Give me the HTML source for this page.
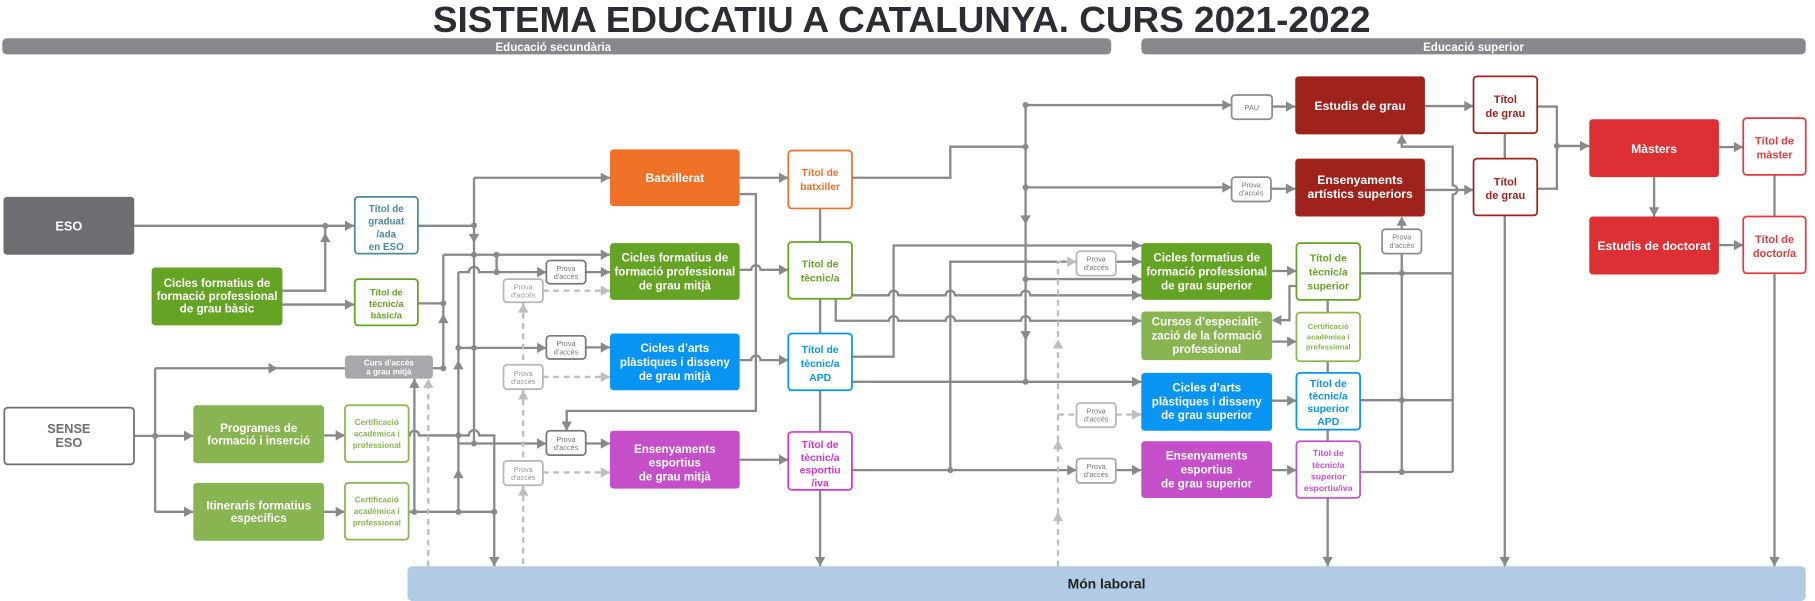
<!DOCTYPE html>
<html><head><meta charset="utf-8"><style>
html,body{margin:0;padding:0;background:#fff;}
svg{display:block;}
text{font-family:"Liberation Sans",Arial,sans-serif;}
</style></head><body>
<svg width="1815" height="601" viewBox="0 0 1568 519" preserveAspectRatio="none" xmlns="http://www.w3.org/2000/svg">
<defs>
<polygon id="ar" points="0,0 -8,-4.5 -8,4.5" fill="#88898d"/>
<polygon id="al" points="0,0 -8,-4.5 -8,4.5" fill="#bdbec1"/>
<circle id="dt" r="2.6" fill="#88898d"/>
</defs>

<!-- Title -->
<text x="779" y="27.5" font-size="31" font-weight="bold" fill="#2b2d33" text-anchor="middle" textLength="810" lengthAdjust="spacingAndGlyphs">SISTEMA EDUCATIU A CATALUNYA. CURS 2021-2022</text>
<rect x="2" y="33" width="958" height="14" rx="4" fill="#87888c"/>
<text x="478" y="44" font-size="10" font-weight="bold" fill="#fff" text-anchor="middle">Educació secundària</text>
<rect x="986" y="33" width="574" height="14" rx="4" fill="#87888c"/>
<text x="1273" y="44" font-size="10" font-weight="bold" fill="#fff" text-anchor="middle">Educació superior</text>

<!-- Món laboral -->
<rect x="352" y="489" width="1208" height="30" rx="4" fill="#b1cbe5"/>
<text x="956" y="508" font-size="12" font-weight="bold" fill="#222" text-anchor="middle">Món laboral</text>

<!-- LINES -->
<g fill="none" stroke="#88898d" stroke-width="2">
<path d="M116,195H306"/>
<path d="M244,251H281V195"/>
<path d="M244,263H306"/>
<path d="M361,195H409.5"/>
<path d="M409.5,153.5V383"/>
<path d="M409.5,153.5H527"/>
<path d="M383,220H527"/>
<path d="M429,220V235"/>
<path d="M396,235H405a4.5,4.5 0 0 1 9,0H472"/>
<path d="M506,235H527"/>
<path d="M361,262H383"/>
<path d="M383,220V318"/>
<path d="M134,318V442"/>
<path d="M134,318H298"/>
<path d="M116,376.4H167"/>
<path d="M134,442H167"/>
<path d="M280,376H298"/>
<path d="M280,442H298"/>
<path d="M374,318H383"/>
<path d="M358,442V327"/>
<path d="M396,235V442"/>
<path d="M396,383H472"/>
<path d="M396,300.4H472"/>
<path d="M506,300H527"/>
<path d="M506,383H527"/>
<path d="M353,376H354a4,4 0 0 1 8,0H405a4.5,4.5 0 0 1 9,0H427V489"/>
<path d="M353,442H427"/>
<path d="M639,167.6H653V354.8H489.6V372"/>
<path d="M639,153.5H681"/>
<path d="M639,233H649a4,4 0 0 1 8,0H681"/>
<path d="M639,311H649a4,4 0 0 1 8,0H681"/>
<path d="M639,397H681"/>
<path d="M708.5,180V209M708.5,258V288M708.5,337V373M708.5,423V489"/>
<path d="M736,153.5H821V126.7H886"/>
<path d="M886,90.7V329"/>
<path d="M886,90.7H1064"/>
<path d="M1099,92H1119"/>
<path d="M886,161.8H1064"/>
<path d="M1098,163H1119"/>
<path d="M736,255H768a4,4 0 0 1 8,0H817a4,4 0 0 1 8,0H882a4,4 0 0 1 8,0H986"/>
<path d="M722,258V277H768a4,4 0 0 1 8,0H817a4,4 0 0 1 8,0H882a4,4 0 0 1 8,0H986"/>
<path d="M736,308H772V212H986"/>
<path d="M736,329.7H986"/>
<path d="M736,406H930"/>
<path d="M964,406H986"/>
<path d="M821,406V226H930"/>
<path d="M964,226H986"/>
<path d="M886,241H986"/>
<path d="M1099,234H1120"/>
<path d="M1099,295H1120"/>
<path d="M1099,346H1120"/>
<path d="M1099,406H1120"/>
<path d="M1120,247H1114V276.5H1100"/>
<path d="M1147,259V270M1147,312V322M1147,371V381M1147,430V489"/>
<path d="M1175,236H1255M1175,345.6H1255M1175,407.6H1255"/>
<path d="M1211,407.6V219M1211,198V188"/>
<path d="M1255,407.6V168a4,4 0 0 0 0,-8V126.7H1211V117"/>
<path d="M1231,91.6H1273M1231,164H1273"/>
<path d="M1300,115V137M1300,186V489"/>
<path d="M1328,92H1345V163H1328M1345,126H1373"/>
<path d="M1485,127H1506M1429,153V187M1485,211.7H1506"/>
<path d="M1533,151V187M1533,236V489"/>
</g>
<!-- dashed -->
<g fill="none" stroke="#bdbec1" stroke-width="2" stroke-dasharray="5,4">
<path d="M469,251H527"/>
<path d="M469,325.5H527"/>
<path d="M469,408H527"/>
<path d="M452,261V315M452,336V398M452,419V489"/>
<path d="M370,489V327"/>
<path d="M914,489V226H930"/>
<path d="M914,358H930"/>
<path d="M964,358H986"/>
</g>

<!-- arrows -->
<use href="#ar" transform="translate(306,195)"/>
<use href="#ar" transform="translate(281,201) rotate(-90)"/>
<use href="#ar" transform="translate(306,263)"/>
<use href="#ar" transform="translate(409.5,210) rotate(90)"/>
<use href="#ar" transform="translate(527,153.5)"/>
<use href="#ar" transform="translate(527,220)"/>
<use href="#ar" transform="translate(472,235)"/>
<use href="#ar" transform="translate(527,235)"/>
<use href="#ar" transform="translate(383,271) rotate(-90)"/>
<use href="#ar" transform="translate(240,318)"/>
<use href="#ar" transform="translate(167,376.4)"/>
<use href="#ar" transform="translate(167,442)"/>
<use href="#ar" transform="translate(298,376)"/>
<use href="#ar" transform="translate(298,442)"/>
<use href="#ar" transform="translate(358,327) rotate(-90)"/>
<use href="#ar" transform="translate(396,311) rotate(-90)"/>
<use href="#ar" transform="translate(396,405) rotate(-90)"/>
<use href="#ar" transform="translate(472,383)"/>
<use href="#ar" transform="translate(472,300.4)"/>
<use href="#ar" transform="translate(527,300)"/>
<use href="#ar" transform="translate(527,383)"/>
<use href="#ar" transform="translate(427,489) rotate(90)"/>
<use href="#ar" transform="translate(489.6,372) rotate(90)"/>
<use href="#ar" transform="translate(681,153.5)"/>
<use href="#ar" transform="translate(681,233)"/>
<use href="#ar" transform="translate(681,311)"/>
<use href="#ar" transform="translate(681,397)"/>
<use href="#ar" transform="translate(708.5,489) rotate(90)"/>
<use href="#ar" transform="translate(886,194) rotate(90)"/>
<use href="#ar" transform="translate(886,294) rotate(90)"/>
<use href="#ar" transform="translate(1064,90.7)"/>
<use href="#ar" transform="translate(1119,92)"/>
<use href="#ar" transform="translate(1064,161.8)"/>
<use href="#ar" transform="translate(1119,163)"/>
<use href="#ar" transform="translate(986,255)"/>
<use href="#ar" transform="translate(986,277)"/>
<use href="#ar" transform="translate(986,212)"/>
<use href="#ar" transform="translate(986,329.7)"/>
<use href="#ar" transform="translate(930,406)"/>
<use href="#ar" transform="translate(986,406)"/>
<use href="#ar" transform="translate(986,226)"/>
<use href="#ar" transform="translate(986,241)"/>
<use href="#ar" transform="translate(1120,234)"/>
<use href="#ar" transform="translate(1120,295)"/>
<use href="#ar" transform="translate(1120,346)"/>
<use href="#ar" transform="translate(1120,406)"/>
<use href="#ar" transform="translate(1099,276.5) rotate(180)"/>
<use href="#ar" transform="translate(1147,489) rotate(90)"/>
<use href="#ar" transform="translate(1211,187) rotate(-90)"/>
<use href="#ar" transform="translate(1211,116) rotate(-90)"/>
<use href="#ar" transform="translate(1273,91.6)"/>
<use href="#ar" transform="translate(1273,164)"/>
<use href="#ar" transform="translate(1300,489) rotate(90)"/>
<use href="#ar" transform="translate(1373,126)"/>
<use href="#ar" transform="translate(1506,127)"/>
<use href="#ar" transform="translate(1429,187) rotate(90)"/>
<use href="#ar" transform="translate(1506,211.7)"/>
<use href="#ar" transform="translate(1533,489) rotate(90)"/>
<!-- light arrows -->
<use href="#al" transform="translate(527,251)"/>
<use href="#al" transform="translate(527,325.5)"/>
<use href="#al" transform="translate(527,408)"/>
<use href="#al" transform="translate(452,262) rotate(-90)"/>
<use href="#al" transform="translate(452,337) rotate(-90)"/>
<use href="#al" transform="translate(452,420) rotate(-90)"/>
<use href="#al" transform="translate(370,327) rotate(-90)"/>
<use href="#al" transform="translate(930,226)"/>
<use href="#al" transform="translate(986,358)"/>
<use href="#al" transform="translate(914,293) rotate(-90)"/>
<use href="#al" transform="translate(914,380) rotate(-90)"/>
<use href="#al" transform="translate(914,442) rotate(-90)"/>

<!-- dots -->
<use href="#dt" x="281" y="195"/>
<use href="#dt" x="409.5" y="194.5"/>
<use href="#dt" x="409.5" y="220"/>
<use href="#dt" x="409.5" y="300.4"/>
<use href="#dt" x="409.5" y="383"/>
<use href="#dt" x="429" y="220"/>
<use href="#dt" x="429" y="235"/>
<use href="#dt" x="383" y="262"/>
<use href="#dt" x="383" y="318"/>
<use href="#dt" x="134" y="376.4"/>
<use href="#dt" x="358" y="442"/>
<use href="#dt" x="396" y="442"/>
<use href="#dt" x="396" y="376"/>
<use href="#dt" x="396" y="300.4"/>
<use href="#dt" x="427" y="442"/>
<use href="#dt" x="886" y="90.7"/>
<use href="#dt" x="886" y="126.7"/>
<use href="#dt" x="886" y="161.8"/>
<use href="#dt" x="886" y="241"/>
<use href="#dt" x="886" y="329.7"/>
<use href="#dt" x="821" y="406"/>
<use href="#dt" x="1211" y="236"/>
<use href="#dt" x="1211" y="345.6"/>
<use href="#dt" x="1211" y="407.6"/>
<use href="#dt" x="1345" y="126"/>

<!-- BOXES -->
<g font-weight="bold" text-anchor="middle">
<rect x="3" y="170" width="113" height="50" rx="3" fill="#6d6e72"/>
<text x="59.5" y="199" font-size="11" fill="#fff">ESO</text>
<rect x="3.75" y="352" width="112" height="49" rx="3" fill="#fff" stroke="#6d6e72" stroke-width="1.5"/>
<text font-size="11" fill="#6d6e72"><tspan x="59.5" y="374">SENSE</tspan><tspan x="59.5" y="386">ESO</tspan></text>

<rect x="131" y="231" width="113" height="50" rx="3" fill="#65a324"/>
<text font-size="10" fill="#fff"><tspan x="187.5" y="248">Cicles formatius de</tspan><tspan x="187.5" y="259">formació professional</tspan><tspan x="187.5" y="270">de grau bàsic</tspan></text>

<rect x="167" y="350" width="113" height="50" rx="3" fill="#88b551"/>
<text font-size="10" fill="#fff"><tspan x="223.5" y="373">Programes de</tspan><tspan x="223.5" y="384">formació i inserció</tspan></text>
<rect x="167" y="417" width="113" height="50" rx="3" fill="#88b551"/>
<text font-size="10" fill="#fff"><tspan x="223.5" y="440">Itineraris formatius</tspan><tspan x="223.5" y="451">específics</tspan></text>

<rect x="298" y="307" width="76" height="20" rx="3" fill="#a7a8ab"/>
<text font-size="7" fill="#fff"><tspan x="336" y="315.5">Curs d'accés</tspan><tspan x="336" y="323.5">a grau mitjà</tspan></text>

<rect x="527" y="129" width="112" height="49" rx="3" fill="#ef7127"/>
<text x="583" y="157" font-size="10.5" fill="#fff">Batxillerat</text>
<rect x="527" y="210" width="112" height="49" rx="3" fill="#65a324"/>
<text font-size="10" fill="#fff"><tspan x="583" y="226">Cicles formatius de</tspan><tspan x="583" y="238">formació professional</tspan><tspan x="583" y="250">de grau mitjà</tspan></text>
<rect x="527" y="288" width="112" height="49" rx="3" fill="#0894f2"/>
<text font-size="10" fill="#fff"><tspan x="583" y="304">Cicles d’arts</tspan><tspan x="583" y="316">plàstiques i disseny</tspan><tspan x="583" y="328">de grau mitjà</tspan></text>
<rect x="527" y="372" width="112" height="50" rx="3" fill="#c54fc8"/>
<text font-size="10" fill="#fff"><tspan x="583" y="391">Ensenyaments</tspan><tspan x="583" y="403">esportius</tspan><tspan x="583" y="415">de grau mitjà</tspan></text>

<rect x="986" y="210" width="113" height="49" rx="3" fill="#65a324"/>
<text font-size="10" fill="#fff"><tspan x="1042.5" y="226">Cicles formatius de</tspan><tspan x="1042.5" y="238">formació professional</tspan><tspan x="1042.5" y="250">de grau superior</tspan></text>
<rect x="986" y="269" width="113" height="42" rx="3" fill="#88b551"/>
<text font-size="10" fill="#fff"><tspan x="1042.5" y="281">Cursos d’especialit-</tspan><tspan x="1042.5" y="293">zació de la formació</tspan><tspan x="1042.5" y="305">professional</tspan></text>
<rect x="986" y="322" width="113" height="50" rx="3" fill="#0894f2"/>
<text font-size="10" fill="#fff"><tspan x="1042.5" y="338">Cicles d’arts</tspan><tspan x="1042.5" y="350">plàstiques i disseny</tspan><tspan x="1042.5" y="362">de grau superior</tspan></text>
<rect x="986" y="381" width="113" height="49" rx="3" fill="#c54fc8"/>
<text font-size="10" fill="#fff"><tspan x="1042.5" y="397">Ensenyaments</tspan><tspan x="1042.5" y="409">esportius</tspan><tspan x="1042.5" y="421">de grau superior</tspan></text>

<rect x="1119" y="66" width="112" height="50" rx="3" fill="#a0221c"/>
<text x="1175" y="95" font-size="10.5" fill="#fff">Estudis de grau</text>
<rect x="1119" y="137" width="112" height="50" rx="3" fill="#a0221c"/>
<text font-size="10.5" fill="#fff"><tspan x="1175" y="159">Ensenyaments</tspan><tspan x="1175" y="171">artístics superiors</tspan></text>
<rect x="1373" y="103" width="112" height="50" rx="3" fill="#dc3035"/>
<text x="1429" y="132" font-size="10.5" fill="#fff">Màsters</text>
<rect x="1373" y="187" width="112" height="50" rx="3" fill="#dc3035"/>
<text x="1429" y="216" font-size="10.5" fill="#fff">Estudis de doctorat</text>
</g>

<!-- title boxes -->
<g font-weight="bold" text-anchor="middle" fill="#fff" stroke-width="1.5">
<rect x="306.5" y="170" width="54.5" height="49" rx="3" stroke="#4d8a9c"/>
<rect x="306.5" y="241" width="54.5" height="40" rx="3" stroke="#65a324"/>
<rect x="298" y="350" width="55" height="49" rx="3" stroke="#88b551"/>
<rect x="298" y="417" width="55" height="49" rx="3" stroke="#88b551"/>
<rect x="681" y="130" width="55" height="50" rx="3" stroke="#ef7127"/>
<rect x="681" y="209" width="55" height="49" rx="3" stroke="#65a324"/>
<rect x="681" y="288" width="55" height="49" rx="3" stroke="#0894f2"/>
<rect x="681" y="373" width="55" height="50" rx="3" stroke="#d633d0"/>
<rect x="1120" y="210" width="55" height="49" rx="3" stroke="#65a324"/>
<rect x="1120" y="270" width="55" height="42" rx="3" stroke="#88b551"/>
<rect x="1120" y="322" width="55" height="49" rx="3" stroke="#0894f2"/>
<rect x="1120" y="381" width="55" height="49" rx="3" stroke="#c54fc8"/>
<rect x="1273" y="66" width="55" height="49" rx="3" stroke="#a0221c"/>
<rect x="1273" y="137" width="55" height="49" rx="3" stroke="#a0221c"/>
<rect x="1506" y="102" width="54" height="49" rx="3" stroke="#e33a3f"/>
<rect x="1506" y="187" width="54" height="49" rx="3" stroke="#e33a3f"/>
</g>
<g font-weight="bold" text-anchor="middle">
<text font-size="8.5" fill="#4d8a9c"><tspan x="333.7" y="183">Títol de</tspan><tspan x="333.7" y="194">graduat</tspan><tspan x="333.7" y="205">/ada</tspan><tspan x="333.7" y="216">en ESO</tspan></text>
<text font-size="8" fill="#65a324"><tspan x="333.7" y="255">Títol de</tspan><tspan x="333.7" y="265">tècnic/a</tspan><tspan x="333.7" y="275">bàsic/a</tspan></text>
<text font-size="7" fill="#88b551"><tspan x="325.5" y="367">Certificació</tspan><tspan x="325.5" y="377">acadèmica i</tspan><tspan x="325.5" y="387">professional</tspan></text>
<text font-size="7" fill="#88b551"><tspan x="325.5" y="434">Certificació</tspan><tspan x="325.5" y="444">acadèmica i</tspan><tspan x="325.5" y="454">professional</tspan></text>
<text font-size="9" fill="#ef7127"><tspan x="708.5" y="152">Títol de</tspan><tspan x="708.5" y="164">batxiller</tspan></text>
<text font-size="9" fill="#65a324"><tspan x="708.5" y="231">Títol de</tspan><tspan x="708.5" y="243">tècnic/a</tspan></text>
<text font-size="9" fill="#0894f2"><tspan x="708.5" y="305">Títol de</tspan><tspan x="708.5" y="317">tècnic/a</tspan><tspan x="708.5" y="329">APD</tspan></text>
<text font-size="9" fill="#d633d0"><tspan x="708.5" y="387">Títol de</tspan><tspan x="708.5" y="398">tècnic/a</tspan><tspan x="708.5" y="409">esportiu</tspan><tspan x="708.5" y="420">/iva</tspan></text>
<text font-size="9" fill="#65a324"><tspan x="1147.5" y="226">Títol de</tspan><tspan x="1147.5" y="238">tècnic/a</tspan><tspan x="1147.5" y="250">superior</tspan></text>
<text font-size="6.5" fill="#88b551"><tspan x="1147.5" y="284">Certificació</tspan><tspan x="1147.5" y="293">acadèmica i</tspan><tspan x="1147.5" y="302">professional</tspan></text>
<text font-size="9" fill="#0894f2"><tspan x="1147.5" y="334">Títol de</tspan><tspan x="1147.5" y="345">tècnic/a</tspan><tspan x="1147.5" y="356">superior</tspan><tspan x="1147.5" y="367">APD</tspan></text>
<text font-size="7.5" fill="#c54fc8"><tspan x="1147.5" y="394">Títol de</tspan><tspan x="1147.5" y="404">tècnic/a</tspan><tspan x="1147.5" y="414">superior</tspan><tspan x="1147.5" y="424">esportiu/iva</tspan></text>
<text font-size="9.5" fill="#a0221c"><tspan x="1300.5" y="89">Títol</tspan><tspan x="1300.5" y="101">de grau</tspan></text>
<text font-size="9.5" fill="#a0221c"><tspan x="1300.5" y="160">Títol</tspan><tspan x="1300.5" y="172">de grau</tspan></text>
<text font-size="9.5" fill="#e33a3f"><tspan x="1533" y="125">Títol de</tspan><tspan x="1533" y="137">màster</tspan></text>
<text font-size="9.5" fill="#e33a3f"><tspan x="1533" y="210">Títol de</tspan><tspan x="1533" y="222">doctor/a</tspan></text>
</g>

<!-- Prova boxes -->
<g fill="#fff" stroke-width="1.5">
<rect x="472" y="225" width="34" height="20" rx="3" stroke="#77787c"/>
<rect x="472" y="290" width="34" height="20" rx="3" stroke="#77787c"/>
<rect x="472" y="372" width="34" height="21" rx="3" stroke="#77787c"/>
<rect x="435" y="241" width="34" height="20" rx="3" stroke="#b5b6b9"/>
<rect x="435" y="315" width="34" height="21" rx="3" stroke="#b5b6b9"/>
<rect x="435" y="398" width="34" height="21" rx="3" stroke="#b5b6b9"/>
<rect x="1064" y="82" width="35" height="21" rx="3" stroke="#8a8b8f"/>
<rect x="1064" y="153" width="34" height="21" rx="3" stroke="#8a8b8f"/>
<rect x="1194" y="198" width="34" height="21" rx="3" stroke="#8a8b8f"/>
<rect x="930" y="217" width="34" height="21" rx="3" stroke="#b5b6b9"/>
<rect x="930" y="348" width="34" height="21" rx="3" stroke="#b5b6b9"/>
<rect x="930" y="396" width="34" height="21" rx="3" stroke="#a5a6a9"/>
</g>
<g font-size="6.3" fill="#77787c" text-anchor="middle">
<text><tspan x="489" y="234">Prova</tspan><tspan x="489" y="241">d'accés</tspan></text>
<text><tspan x="489" y="299">Prova</tspan><tspan x="489" y="306">d'accés</tspan></text>
<text><tspan x="489" y="381.5">Prova</tspan><tspan x="489" y="388.5">d'accés</tspan></text>
<text fill="#9a9b9e"><tspan x="452" y="250">Prova</tspan><tspan x="452" y="257">d'accés</tspan></text>
<text fill="#9a9b9e"><tspan x="452" y="324.5">Prova</tspan><tspan x="452" y="331.5">d'accés</tspan></text>
<text fill="#9a9b9e"><tspan x="452" y="407.5">Prova</tspan><tspan x="452" y="414.5">d'accés</tspan></text>
<text x="1081.5" y="95">PAU</text>
<text><tspan x="1081" y="162">Prova</tspan><tspan x="1081" y="169">d'accés</tspan></text>
<text><tspan x="1211" y="207">Prova</tspan><tspan x="1211" y="214">d'accés</tspan></text>
<text><tspan x="947" y="226">Prova</tspan><tspan x="947" y="233">d'accés</tspan></text>
<text><tspan x="947" y="357">Prova</tspan><tspan x="947" y="364">d'accés</tspan></text>
<text><tspan x="947" y="405">Prova</tspan><tspan x="947" y="412">d'accés</tspan></text>
</g>
</svg>
</body></html>
